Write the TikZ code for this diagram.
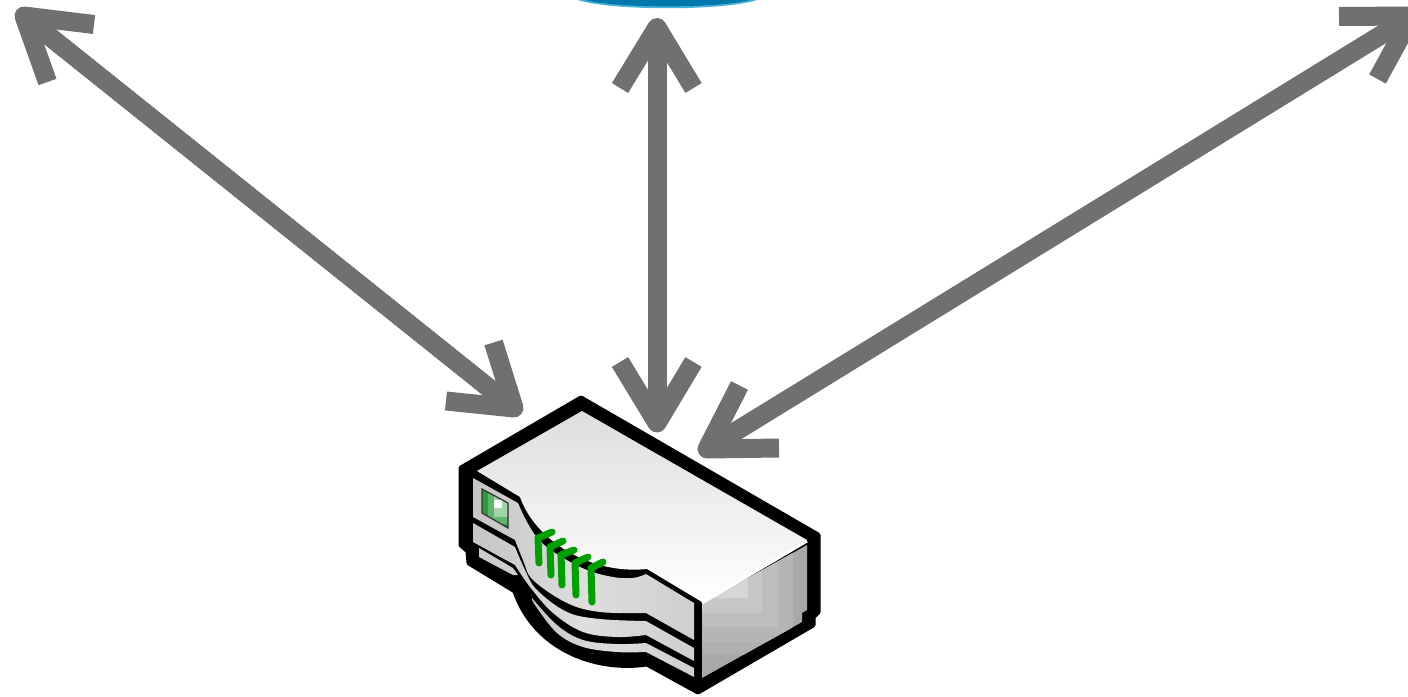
\documentclass[tikz,border=0pt]{standalone}
\begin{document}
\begin{tikzpicture}[x=1pt,y=-1pt,
  shaft/.style={draw=arrowgray,line width=19pt,line cap=butt},
  barb/.style={draw=arrowgray,line width=19pt,line cap=butt,line join=round},
  panel/.style={left color=black!23,right color=black!19,middle color=black!13},
  led/.style={draw=ledgreen,line width=7pt,line cap=round,line join=round}]
\definecolor{arrowgray}{HTML}{707070}
\definecolor{ledgreen}{HTML}{00A000}
\definecolor{dishblue}{HTML}{0078AC}
\definecolor{dishedge}{HTML}{48B4DC}
\definecolor{winA}{HTML}{2E9B3A}
\definecolor{winB}{HTML}{60B56B}
\definecolor{winC}{HTML}{A2D3A5}
\useasboundingbox (0,0) rectangle (1408,696);
\clip (0,0) rectangle (1408,696);
% blue dish
\fill[dishedge] (578,0) .. controls (610,11) and (725,11) .. (757,0) -- cycle;
\fill[dishblue] (585,0) .. controls (615,8.5) and (720,8.5) .. (750,0) -- cycle;
% arrow end points
\coordinate (lt) at (24,16);   \coordinate (lb) at (514,408);
\coordinate (ct) at (657,27.5);\coordinate (cb) at (657,423);
\coordinate (rt) at (1412,16); \coordinate (rb) at (707,449);
% arrows
\draw[shaft] (lt) -- (lb);
\draw[shaft] (ct) -- (cb);
\draw[shaft] (rt) -- (rb);
\draw[barb] (94,24.5) -- (lt) -- (47.5,82);
\draw[barb] (446,401) -- (lb) -- (493.5,342.5);
\draw[barb] (620,88) -- (ct) -- (693.5,88);
\draw[barb] (620,362) -- (cb) -- (693.5,362);
\draw[barb] (1339,16.5) -- (rt) -- (1377.5,79);
\draw[barb] (779,448) -- (rb) -- (739.5,385.5);
% device silhouette
\filldraw[black,line width=5pt,line join=round]
  (581,398) -- (818,535) -- (818,612) -- (813,617) -- (813,625) -- (698,692)
  -- (647,664) .. controls (590,672) and (533,645) .. (515,591)
  -- (469,563) -- (468,551) -- (461,545) -- (461,468) -- cycle;
% top face
\shade[top color=black!13,bottom color=white]
  (582,411) -- (807,540) -- (702,602) -- (647,569)
  .. controls (590,575) and (535,540) .. (520,497) -- (477,471) -- cycle;
% front panels
\shade[panel] (473,478) -- (518,503) -- plot[smooth,tension=.6] coordinates {(518,503) (527,522) (540,541) (560,556) (587,570) (613,577) (633,578) (646,574)}
  -- (694,603) -- (694,640) -- plot[smooth,tension=.6] coordinates {(646,613) (600,612) (567,603) (533,580) (523,560) (515,540)}
  -- (473,517) -- cycle;
\shade[panel] (473,523) -- (515,547) -- plot[smooth,tension=.6] coordinates {(515,547) (525,570) (537,590) (567,612) (600,619) (646,621)}
  -- (694,648) -- (694,661) -- plot[smooth,tension=.6] coordinates {(646,635) (617,637) (583,632) (553,613) (530,587) (515,565)}
  -- (473,542) -- cycle;
\fill[black!20] (479,548) -- (513,568) -- (518,575) -- (513,575) -- (479,557) -- cycle;
\shade[panel] (694,668) -- (646,643) -- plot[smooth,tension=.6] coordinates {(646,643) (617,644) (583,640) (557,625) (532,598)}
  -- plot[smooth,tension=.6] coordinates {(532,598) (535,605) (557,633) (583,647) (617,652) (646,652)}
  -- (694,677) -- cycle;
% right face
\begin{scope}
\clip (702,604) -- (807,545) -- (807,610) -- (802,613) -- (802,622) -- (702,678) -- cycle;
\fill[black!34] (700,540) rectangle (810,680);
\fill[black!31] (700,540) rectangle (793,655);
\fill[black!29] (700,540) rectangle (793,642);
\fill[black!26] (700,540) rectangle (778,627);
\fill[black!22] (700,540) rectangle (762,613);
\fill[black!16] (700,540) rectangle (748,598);
\fill[black!10] (700,540) rectangle (735,585);
\end{scope}
\draw[white,line width=3pt] (702,603) -- (807,541);
% indicator window
\begin{scope}
\clip (482,489) -- (508,503) -- (508,528) -- (482,513) -- cycle;
\fill[winA] (480,487) rectangle (510,530);
\fill[winB] (488,491) rectangle (510,524);
\fill[winC] (494,496) rectangle (509,517);
\fill[white] (494,500) rectangle (502,508);
\end{scope}
\draw[black!80,line width=1.2pt] (482,489) -- (508,503) -- (508,528) -- (482,513) -- cycle;
% leds
\draw[led] (552,532) -- (538,538) -- (539,563);
\draw[led] (563,541) -- (550,547) -- (551,575);
\draw[led] (574,550) -- (561,555) -- (562,585);
\draw[led] (588,557) -- (575,563) -- (576,595);
\draw[led] (603,562) -- (591,568) -- (592,602);
\end{tikzpicture}
\end{document}
